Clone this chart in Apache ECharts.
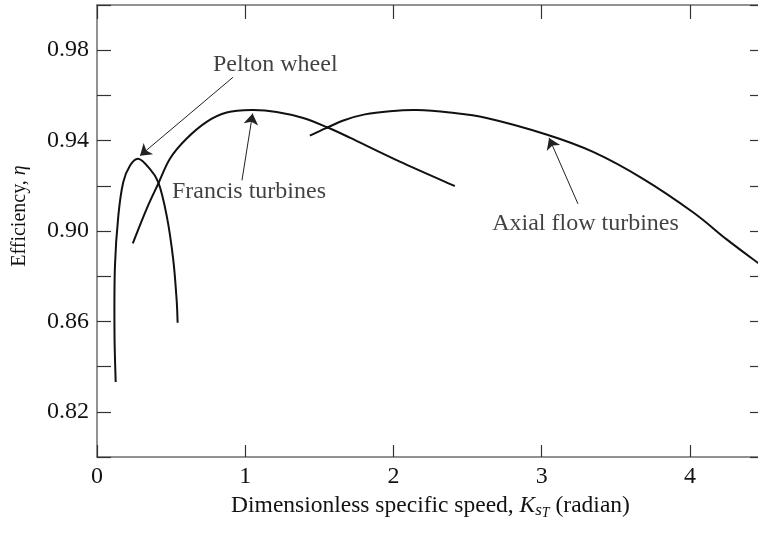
<!DOCTYPE html>
<html>
<head>
<meta charset="utf-8">
<script src="https://cdn.jsdelivr.net/npm/echarts@6/dist/echarts.min.js"></script>
<style>
  html, body { margin: 0; padding: 0; background: #fff; }
  #chart { width: 758px; height: 533px; }
</style>
</head>
<body>
<div id="chart"></div>
<script>
// Efficiency curves versus dimensionless specific speed K_sT (radian)
const peltonK   = [0.126, 0.118, 0.121, 0.144, 0.177, 0.223, 0.278, 0.346, 0.413, 0.470, 0.514, 0.537, 0.544];
const peltonEta = [0.8332, 0.8551, 0.8844, 0.9068, 0.9216, 0.9290, 0.9320, 0.9283, 0.9216, 0.9068, 0.8876, 0.8698, 0.8594];

const francisK   = [0.241, 0.335, 0.413, 0.492, 0.605, 0.740, 0.875, 1.043, 1.212, 1.391, 1.549, 1.706, 2.043, 2.414];
const francisEta = [0.8945, 0.9098, 0.9209, 0.9320, 0.9409, 0.9483, 0.9524, 0.9535, 0.9527, 0.9500, 0.9460, 0.9413, 0.9307, 0.9199];

const axialK   = [1.436, 1.537, 1.672, 1.807, 1.976, 2.156, 2.380, 2.628, 3.032, 3.347, 3.684, 4.021, 4.246, 4.46];
const axialEta = [0.9422, 0.9453, 0.9491, 0.9516, 0.9530, 0.9535, 0.9524, 0.9500, 0.9427, 0.9350, 0.9231, 0.9083, 0.8964, 0.8858];

const xTicks = [0, 1, 2, 3, 4];
const yTickLabels = [0.82, 0.86, 0.90, 0.94, 0.98];

// callout text and arrows (arrow: from label to curve)
const calloutText = ['Pelton wheel', 'Francis turbines', 'Axial flow turbines'];
const calloutAt   = [[0.782, 0.9738], [0.506, 0.9173], [2.666, 0.9031]];
const arrowFrom   = [[0.917, 0.968], [0.978, 0.9224], [3.245, 0.912]];
const arrowTo     = [[0.290, 0.9333], [1.050, 0.9520], [3.050, 0.9412]];

const FONT = "'Liberation Serif', 'Times New Roman', serif";
const INK = '#121212';

const chart = echarts.init(document.getElementById('chart'), null, { renderer: 'canvas' });

const axisLine = { show: true, onZero: false, lineStyle: { color: '#6e6e6e', width: 1.5 } };
const tickStyle = { color: '#333', width: 1.2 };

// Smooth curve through the measured points (Catmull-Rom converted to cubic Béziers),
// positioned with the grid's own scales via api.coord.
function curve(name, k, eta) {
  return {
    name, type: 'custom', coordinateSystem: 'cartesian2d', xAxisIndex: 0, yAxisIndex: 0,
    data: [[k[0], eta[0]]], z: 3, silent: true,
    renderItem: (params, api) => {
      const p = k.map((x, i) => api.coord([x, eta[i]]));
      const n = p.length;
      const at = i => p[Math.max(0, Math.min(n - 1, i))];
      let d = `M${p[0][0]},${p[0][1]}`;
      for (let i = 0; i < n - 1; i++) {
        const p0 = at(i - 1), p1 = at(i), p2 = at(i + 1), p3 = at(i + 2);
        const c1 = [p1[0] + (p2[0] - p0[0]) / 6, p1[1] + (p2[1] - p0[1]) / 6];
        const c2 = [p2[0] - (p3[0] - p1[0]) / 6, p2[1] - (p3[1] - p1[1]) / 6];
        d += ` C${c1[0]},${c1[1]} ${c2[0]},${c2[1]} ${p2[0]},${p2[1]}`;
      }
      return {
        type: 'path', shape: { pathData: d },
        style: { fill: 'none', stroke: '#111', lineWidth: 2 }
      };
    }
  };
}

chart.setOption({
  animation: false,
  backgroundColor: '#fff',
  grid: { left: 97, top: 5, width: 667, height: 452, outerBoundsMode: 'none', containLabel: false },
  xAxis: [
    {
      type: 'value', position: 'bottom', min: 0, max: 4.5, interval: 1,
      axisLine, splitLine: { show: false },
      axisTick: { inside: true, length: 12, lineStyle: tickStyle },
      axisLabel: {
        color: INK, fontFamily: FONT, fontSize: 24, margin: 8,
        formatter: v => xTicks.includes(v) ? String(v) : ''
      },
      name: 'Dimensionless specific speed, {k|K}{s|s}{t|T}{r| (radian)}',
      nameLocation: 'middle', nameGap: 30,
      nameTextStyle: {
        color: INK, fontFamily: FONT, fontSize: 23.5,
        rich: {
          k: { fontFamily: FONT, fontSize: 23.5, fontStyle: 'italic', color: INK },
          s: { fontFamily: FONT, fontSize: 17, fontStyle: 'italic', color: INK, padding: [10, 0, 0, 0] },
          t: { fontFamily: FONT, fontSize: 14, fontStyle: 'italic', color: INK, padding: [14, 0, 0, 0] },
          r: { fontFamily: FONT, fontSize: 23.5, color: INK }
        }
      }
    },
    {
      type: 'value', position: 'top', min: 0, max: 4.5, interval: 1,
      axisLine, splitLine: { show: false },
      axisTick: { inside: true, length: 14, lineStyle: tickStyle },
      axisLabel: { show: false }
    }
  ],
  yAxis: [
    {
      type: 'value', position: 'left', min: 0.80, max: 1.00, interval: 0.02,
      axisLine, splitLine: { show: false },
      axisTick: { inside: true, length: 14, lineStyle: tickStyle },
      axisLabel: {
        color: INK, fontFamily: FONT, fontSize: 24, margin: 8,
        formatter: v => yTickLabels.some(t => Math.abs(t - v) < 1e-6) ? v.toFixed(2) : ''
      }
    },
    {
      type: 'value', position: 'right', min: 0.80, max: 1.00, interval: 0.02,
      axisLine, splitLine: { show: false },
      axisTick: { inside: true, length: 14, lineStyle: tickStyle },
      axisLabel: { show: false }
    }
  ],
  graphic: [{
    type: 'text', x: 20, y: 216, rotation: Math.PI / 2,
    style: {
      text: 'Efficiency, {e|η}', fill: INK, font: '20px ' + FONT,
      align: 'center', verticalAlign: 'middle',
      rich: { e: { fontFamily: FONT, fontSize: 20, fontStyle: 'italic', fill: INK } }
    }
  }],
  series: [
    curve('Pelton wheel', peltonK, peltonEta),
    curve('Francis turbines', francisK, francisEta),
    curve('Axial flow turbines', axialK, axialEta),
    {
      type: 'lines', coordinateSystem: 'cartesian2d', xAxisIndex: 0, yAxisIndex: 0,
      symbol: ['none', 'arrow'], symbolSize: [0, 11],
      lineStyle: { color: '#222', width: 1, opacity: 1 },
      data: arrowFrom.map((p, i) => ({ coords: [p, arrowTo[i]] })), z: 4
    },
    {
      type: 'scatter', xAxisIndex: 0, yAxisIndex: 0, symbolSize: 0,
      data: calloutAt.map((p, i) => ({ value: p, name: calloutText[i] })),
      label: {
        show: true, position: 'right', distance: 0, formatter: p => p.name,
        color: INK, fontFamily: FONT, fontSize: 24
      },
      z: 5
    }
  ]
});
</script>
</body>
</html>
